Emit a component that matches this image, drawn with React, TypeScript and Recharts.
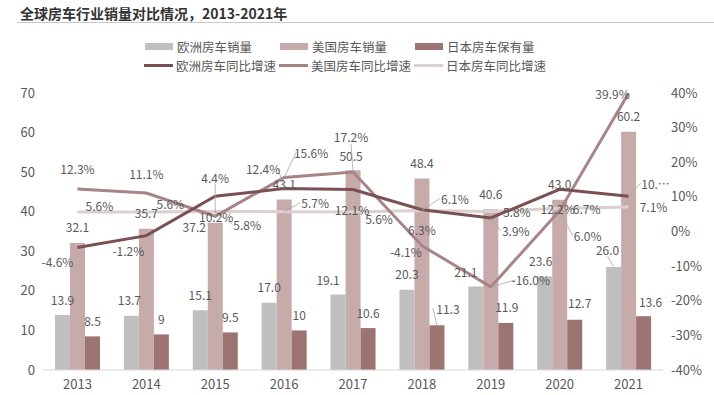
import { ComposedChart, Bar, Line, XAxis, YAxis, LabelList } from 'recharts';

const years = ['2013', '2014', '2015', '2016', '2017', '2018', '2019', '2020', '2021'];
const euSales = [13.9, 13.7, 15.1, 17.0, 19.1, 20.3, 21.1, 23.6, 26.0];
const usSales = [32.1, 35.7, 37.2, 43.1, 50.5, 48.4, 40.6, 43.0, 60.2];
const jpStock = [8.5, 9, 9.5, 10, 10.6, 11.3, 11.9, 12.7, 13.6];
const euGrowth = [-4.6, -1.2, 10.2, 12.4, 12.1, 6.3, 3.9, 12.2, 10.2];
const usGrowth = [12.3, 11.1, 4.4, 15.6, 17.2, -4.1, -16.0, 6.0, 39.9];
const jpGrowth = [5.6, 5.6, 5.8, 5.7, 5.6, 6.1, 5.8, 6.7, 7.1];
const leftTicks = [0, 10, 20, 30, 40, 50, 60, 70];
const rightTicks = [-40, -30, -20, -10, 0, 10, 20, 30, 40];

const data = years.map((year, i) => ({
  year,
  euSales: euSales[i],
  usSales: usSales[i],
  jpStock: jpStock[i],
  euGrowth: euGrowth[i],
  usGrowth: usGrowth[i],
  jpGrowth: jpGrowth[i],
}));

// label placement: [dx, dy, leader line]
type Offset = [number, number, boolean?];
const euSalesPos: Offset[] = [[0, -15], [-2, -16], [0, -16], [0, -16], [-10, -15], [0, -16], [-10, -15], [-4, -16], [-6, -18, true]];
const usSalesPos: Offset[] = [[0, -16], [0, -16], [-21, 4], [0, -16], [-2, -15], [0, -16], [0, -16], [0, -16], [0, -16]];
const jpStockPos: Offset[] = [[0, -16], [0, -16], [0, -16], [0, -16], [0, -16], [11, -17, true], [1, -16], [5, -17], [7, -15]];
const euGrowthPos: Offset[] = [[-20, 14], [-18, 15], [1, 20], [-21, -20, true], [-1, 20], [0, 20], [25, 13, true], [-2, 19], [27, -13, true]];
const usGrowthPos: Offset[] = [[0, -20], [0, -20], [0, -39, true], [27, -25, true], [-2, -35, true], [-16, 6], [40, -7, true], [28, 25, true], [-16, 0]];
const jpGrowthPos: Offset[] = [[22, -7], [24, -9], [32, 13, true], [31, -9, true], [26, 6], [33, -12, true], [26, 0], [27, 0], [25, 0]];

const FONT = '"Noto Sans CJK SC", "Noto Sans", sans-serif';
const TEXT = '#595959';

const C = {
  euBar: '#bfbfbf',
  usBar: '#c7abab',
  jpBar: '#9c7472',
  euLine: '#7a5053',
  usLine: '#a88486',
  jpLine: '#dbcfcf',
};

function makeLabel(pos: Offset[], fmt: (v: number, i: number) => string, isBar: boolean) {
  return (props: any) => {
    const { x, y, width, value, index } = props;
    const px = isBar ? Number(x) + Number(width) / 2 : Number(x);
    const py = Number(y);
    const [dx, dy, leader] = pos[index] || [0, -16];
    const lx = px + dx;
    const ly = py + dy;
    let ex = lx;
    let ey = ly;
    if (dx > 6) ex = lx - 15;
    else if (dx < -6) ex = lx + 15;
    else ey = dy < 0 ? ly + 7 : ly - 7;
    return (
      <g>
        {leader && <line x1={px} y1={py} x2={ex} y2={ey} stroke="#a6a6a6" strokeWidth={0.8} />}
        <text x={lx} y={ly} textAnchor="middle" dominantBaseline="central" fill={TEXT} fontSize={12} fontFamily={FONT}>
          {fmt(Number(value), index)}
        </text>
      </g>
    );
  };
}

const oneDec = (v: number) => v.toFixed(1);
const raw = (v: number) => String(v);
const pct = (v: number) => `${v.toFixed(1)}%`;
const pctEu = (v: number, i: number) => (i === years.length - 1 ? '10.…' : `${v.toFixed(1)}%`);

const legendRow1 = [
  { name: '欧洲房车销量', color: C.euBar, x: 145 },
  { name: '美国房车销量', color: C.usBar, x: 280 },
  { name: '日本房车保有量', color: C.jpBar, x: 415 },
];
const legendRow2 = [
  { name: '欧洲房车同比增速', color: C.euLine, x: 144 },
  { name: '美国房车同比增速', color: C.usLine, x: 279 },
  { name: '日本房车同比增速', color: C.jpLine, x: 414 },
];

export default function App() {
  return (
    <div style={{ position: 'absolute', left: 0, top: 0, width: 714, height: 395, background: '#fff', fontFamily: FONT }}>
      <div style={{ position: 'absolute', left: 20, top: 3, fontSize: 14, fontWeight: 700, color: '#333', whiteSpace: 'nowrap', lineHeight: '20px' }}>
        全球房车行业销量对比情况，2013-2021年
      </div>
      <div style={{ position: 'absolute', left: 17, top: 22, width: 697, height: 1, background: '#c8c8c8' }} />
      {legendRow1.map((it) => (
        <div key={it.name} style={{ position: 'absolute', left: it.x, top: 37, height: 18, display: 'flex', alignItems: 'center', whiteSpace: 'nowrap' }}>
          <span style={{ display: 'inline-block', width: 28, height: 7, background: it.color, marginRight: 4 }} />
          <span style={{ fontSize: 12.5, color: TEXT }}>{it.name}</span>
        </div>
      ))}
      {legendRow2.map((it) => (
        <div key={it.name} style={{ position: 'absolute', left: it.x, top: 56, height: 18, display: 'flex', alignItems: 'center', whiteSpace: 'nowrap' }}>
          <span style={{ display: 'inline-block', width: 29, height: 3, background: it.color, marginRight: 3 }} />
          <span style={{ fontSize: 12.5, color: TEXT }}>{it.name}</span>
        </div>
      ))}
      <div style={{ position: 'absolute', left: 0, top: 0 }}>
        <ComposedChart width={714} height={395} data={data} margin={{ top: 93, right: 0, bottom: 0, left: 0 }} barGap={0} barSize={15}>
          <XAxis
            dataKey="year"
            tickLine={false}
            axisLine={{ stroke: '#d9d9d9' }}
            tick={{ fill: TEXT, fontSize: 13, fontFamily: FONT }}
            tickMargin={4}
            height={25}
          />
          <YAxis
            yAxisId="left"
            domain={[0, 70]}
            ticks={leftTicks}
            tickLine={false}
            axisLine={false}
            tick={{ fill: TEXT, fontSize: 13, fontFamily: FONT }}
            width={43}
          />
          <YAxis
            yAxisId="right"
            orientation="right"
            domain={[-40, 40]}
            ticks={rightTicks}
            tickFormatter={(v: number) => `${v}%`}
            tickLine={false}
            axisLine={false}
            tick={{ fill: TEXT, fontSize: 13, fontFamily: FONT }}
            width={51}
          />
          <Bar yAxisId="left" dataKey="euSales" fill={C.euBar} isAnimationActive={false}>
            <LabelList dataKey="euSales" content={makeLabel(euSalesPos, oneDec, true)} />
          </Bar>
          <Bar yAxisId="left" dataKey="usSales" fill={C.usBar} isAnimationActive={false}>
            <LabelList dataKey="usSales" content={makeLabel(usSalesPos, oneDec, true)} />
          </Bar>
          <Bar yAxisId="left" dataKey="jpStock" fill={C.jpBar} isAnimationActive={false}>
            <LabelList dataKey="jpStock" content={makeLabel(jpStockPos, raw, true)} />
          </Bar>
          <Line yAxisId="right" dataKey="jpGrowth" stroke={C.jpLine} strokeWidth={3} dot={false} isAnimationActive={false}>
            <LabelList dataKey="jpGrowth" content={makeLabel(jpGrowthPos, pct, false)} />
          </Line>
          <Line yAxisId="right" dataKey="usGrowth" stroke={C.usLine} strokeWidth={3} dot={false} isAnimationActive={false}>
            <LabelList dataKey="usGrowth" content={makeLabel(usGrowthPos, pct, false)} />
          </Line>
          <Line yAxisId="right" dataKey="euGrowth" stroke={C.euLine} strokeWidth={3} dot={false} isAnimationActive={false}>
            <LabelList dataKey="euGrowth" content={makeLabel(euGrowthPos, pctEu, false)} />
          </Line>
        </ComposedChart>
      </div>
    </div>
  );
}
